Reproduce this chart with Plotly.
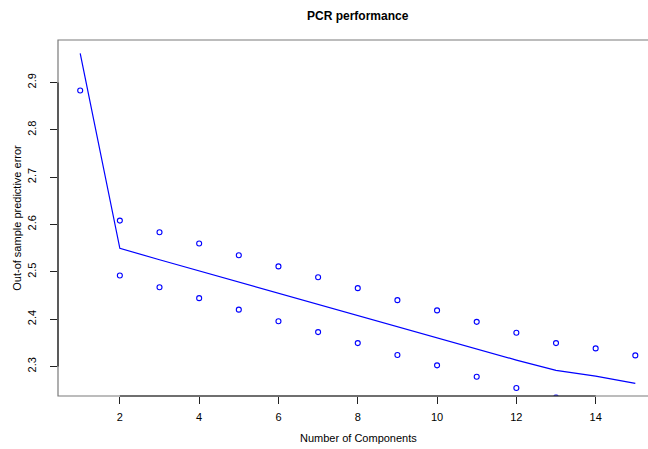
import plotly.graph_objects as go

components = list(range(1, 16))
cv_error = [2.9614, 2.5496, 2.5255, 2.5020, 2.4775, 2.4534, 2.4306, 2.4078,
            2.3838, 2.3606, 2.3373, 2.3135, 2.2918, 2.2797, 2.2644]
upper_band = [None, 2.6082, 2.5835, 2.5597, 2.5350, 2.5114, 2.4886, 2.4654,
              2.4401, 2.4184, 2.3943, 2.3711, 2.3494, 2.3382, 2.3234]
lower_band = [2.8831, 2.4922, 2.4675, 2.4443, 2.4200, 2.3954, 2.3726, 2.3494,
              2.3241, 2.3023, 2.2783, 2.2544, 2.2342, 2.2212, 2.2054]
x_ticks = [2, 4, 6, 8, 10, 12, 14]
y_ticks = [2.3, 2.4, 2.5, 2.6, 2.7, 2.8, 2.9]
y_tick_text = ["2.3", "2.4", "2.5", "2.6", "2.7", "2.8", "2.9"]

BLUE = "#0000FF"
FONT = "Liberation Sans, Arial, Helvetica, sans-serif"

fig = go.Figure()
fig.add_trace(go.Scatter(x=components, y=cv_error, mode="lines",
                         line=dict(color=BLUE, width=1.2), showlegend=False))
fig.add_trace(go.Scatter(x=components, y=upper_band, mode="markers",
                         marker=dict(symbol="circle-open", size=5, color=BLUE,
                                     line=dict(width=1.1, color=BLUE)),
                         showlegend=False))
fig.add_trace(go.Scatter(x=components, y=lower_band, mode="markers",
                         marker=dict(symbol="circle-open", size=5, color=BLUE,
                                     line=dict(width=1.1, color=BLUE)),
                         showlegend=False))

# plot box (gray) extending past the right edge, plus black axis segments
fig.add_shape(type="rect", xref="paper", yref="paper", x0=0, x1=1.03, y0=0, y1=1,
              line=dict(color="#7a7a7a", width=1.2), layer="above")
fig.add_shape(type="line", xref="x", yref="paper", x0=x_ticks[0], x1=x_ticks[-1],
              y0=0, y1=0, line=dict(color="#222222", width=1.2), layer="above")
fig.add_shape(type="line", xref="paper", yref="y", x0=0, x1=0,
              y0=y_ticks[0], y1=y_ticks[-1], line=dict(color="#222222", width=1.2),
              layer="above")

fig.add_annotation(text="<b>PCR performance</b>", xref="paper", yref="paper",
                   x=0.5085, y=1, yshift=24, xanchor="center", yanchor="middle",
                   showarrow=False, font=dict(size=12, color="#000000", family=FONT))
fig.add_annotation(text="Number of Components", xref="paper", yref="paper",
                   x=0.5085, y=0, yshift=-42, xanchor="center", yanchor="middle",
                   showarrow=False, font=dict(size=11, color="#000000", family=FONT))

fig.update_layout(
    width=648, height=449,
    margin=dict(l=58, r=0, t=40, b=53),
    paper_bgcolor="white", plot_bgcolor="white",
    font=dict(family=FONT, size=11, color="#000000"),
    xaxis=dict(range=[0.44, 15.32], tickvals=x_ticks, ticks="outside", ticklen=7,
               tickwidth=1, tickcolor="#222222", showgrid=False, zeroline=False,
               showline=False, ticklabelstandoff=4,
               tickfont=dict(size=11, family=FONT, color="#000000")),
    yaxis=dict(range=[2.2376, 2.9897], tickvals=y_ticks, ticktext=y_tick_text,
               ticks="outside", ticklen=7, tickwidth=1, tickcolor="#222222",
               showgrid=False, zeroline=False, showline=False, tickangle=-90,
               ticklabelstandoff=10,
               tickfont=dict(size=11, family=FONT, color="#000000"),
               title=dict(text="Out-of sample predictive error", standoff=1,
                          font=dict(size=11, family=FONT, color="#000000"))),
)

fig.write_html("out.html")
